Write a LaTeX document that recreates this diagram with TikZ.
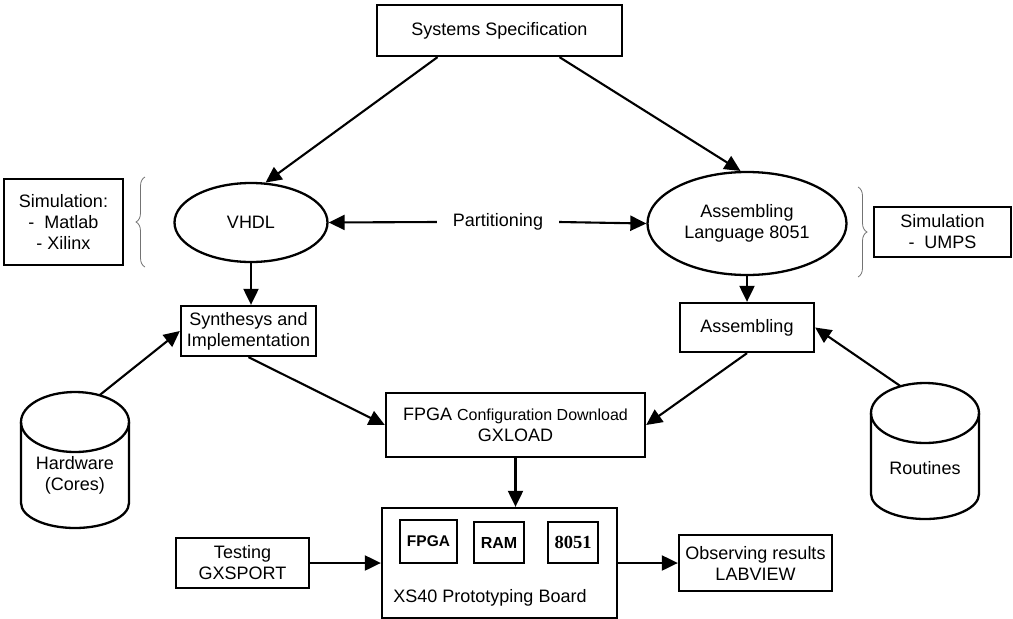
\documentclass[tikz,border=0pt]{standalone}
\usepackage{fontspec}
\setmainfont{Liberation Sans}
\newfontfamily\serifbold{Liberation Serif}
\usetikzlibrary{arrows.meta,shapes.geometric,decorations.pathreplacing,calc}
\newcommand\mainfs{\fontsize{18}{21}\selectfont}
\begin{document}
\begin{tikzpicture}[x=1pt,y=1pt,
  box/.style={draw,line width=2.3pt,align=center,inner sep=0pt,font=\mainfs},
  oval/.style={ellipse,draw,line width=2.3pt,align=center,inner sep=0pt,font=\mainfs},
  inbox/.style={draw,line width=2.3pt,inner sep=0pt,font=\bfseries},
  txt/.style={align=center,inner sep=0pt,font=\mainfs},
  cylbox/.style={inner sep=0pt,minimum width=108pt,minimum height=136pt},
  cyl/.style={line width=2.3pt},
  arr/.style={line width=2.1pt,-{Triangle[length=16pt,width=15pt]}},
  bracestyle/.style={draw=black!55,line width=0.8pt,decorate,decoration={brace,amplitude=9pt}}]
\useasboundingbox (0,0) rectangle (1013,-619);

% nodes
\node[box,minimum width=245pt,minimum height=51pt] (spec) at (499.5,-30.5) {Systems Specification};
\node[oval,minimum width=153pt,minimum height=79pt] (vhdl) at (251,-222.5) {VHDL};
\node[oval,minimum width=199pt,minimum height=103pt] (asm) at (747,-223.5) {Assembling\\Language 8051};
\node[box,minimum width=119pt,minimum height=86pt] (siml) at (63.5,-222) {Simulation:\\-\ \ Matlab\\- Xilinx};
\node[box,minimum width=137pt,minimum height=50pt] (simr) at (942.5,-232) {Simulation\\-\ \ UMPS};
\node[txt,inner xsep=16pt] (part) at (498,-222) {Partitioning};
\node[box,minimum width=135pt,minimum height=50pt] (synth) at (248.5,-331) {Synthesys and\\Implementation};
\node[box,minimum width=134pt,minimum height=49pt] (asmbox) at (747,-327.5) {Assembling};
\node[box,minimum width=259pt,minimum height=64pt] (fpga) at (515.5,-425)
  {FPGA {\fontsize{16}{21}\selectfont Configuration Download}\\GXLOAD};
\node[box,minimum width=235pt,minimum height=110pt] (board) at (499.5,-563) {};
\node[txt] (boardlbl) at (490,-598) {XS40 Prototyping Board};
\node[inbox,minimum width=57pt,minimum height=43pt,font=\fontsize{15.5}{18}\selectfont\bfseries] (fp) at (428.5,-541.5) {FPGA};
\node[inbox,minimum width=50pt,minimum height=41pt,font=\fontsize{16}{18}\selectfont\bfseries] (ram) at (499,-542.5) {RAM};
\node[inbox,minimum width=50pt,minimum height=41pt,font=\fontsize{18.5}{20}\selectfont\serifbold\bfseries] (mcu) at (573,-542.5) {8051};
\node[box,minimum width=133pt,minimum height=50pt] (test) at (242.5,-563) {Testing\\GXSPORT};
\node[box,minimum width=153pt,minimum height=56pt] (obs) at (755.5,-563) {Observing results\\LABVIEW};

% cylinders
\node[cylbox] (hw) at (75,-460) {};
\node[txt] (hwt) at (75,-475) {Hardware\\(Cores)};
\draw[cyl] ($(hw.center)+(0,38)$) ellipse [x radius=54, y radius=30];
\draw[cyl] ($(hw.center)+(-54,38)$) -- ($(hw.center)+(-54,-43)$)
  arc[start angle=180,end angle=360,x radius=54,y radius=25] -- ($(hw.center)+(54,38)$);
\node[cylbox] (rt) at (925,-451) {};
\node[txt] (rtt) at (925,-468) {Routines};
\draw[cyl] ($(rt.center)+(0,38)$) ellipse [x radius=54, y radius=30];
\draw[cyl] ($(rt.center)+(-54,38)$) -- ($(rt.center)+(-54,-43)$)
  arc[start angle=180,end angle=360,x radius=54,y radius=25] -- ($(rt.center)+(54,38)$);

% braces
\draw[bracestyle] (145,-267) -- (145,-177);
\draw[bracestyle] (858,-187) -- (858,-277);

% connectors
\draw[arr] ($(spec.south)+(-62,0)$) -- (vhdl.70);
\draw[arr] ($(spec.south)+(60,0)$) -- (asm.97);
\draw[arr] (part.west) -- (vhdl.east);
\draw[arr] (part.east) -- (asm.west);
\draw[arr] (vhdl.south) -- (vhdl.south |- synth.north);
\draw[arr] (asm.south) -- (asmbox.north);
\draw[arr] ($(hw.north)+(25,-3)$) -- (synth.west);
\draw[arr] ($(rt.north)+(-25,-3)$) -- (asmbox.east);
\draw[arr] (synth.south) -- (fpga.west);
\draw[arr] (asmbox.south) -- (fpga.east);
\draw[arr] (fpga.south) -- (fpga.south |- board.north);
\draw[arr] (test.east) -- (board.west);
\draw[arr] (board.east) -- (obs.west);
\end{tikzpicture}
\end{document}
